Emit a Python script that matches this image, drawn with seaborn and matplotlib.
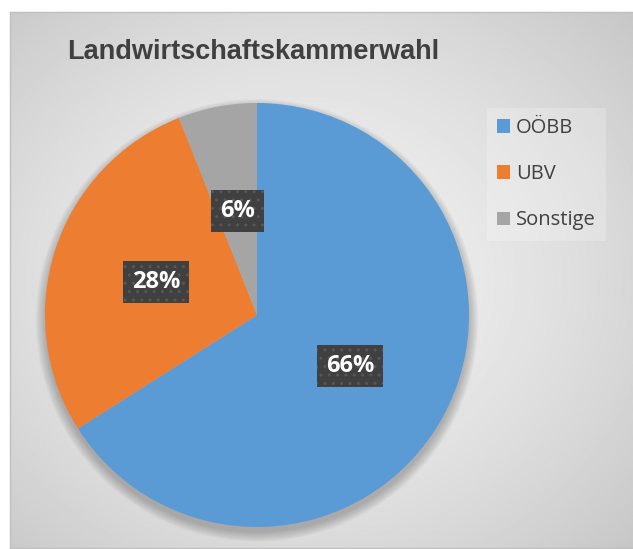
import numpy as np
import matplotlib.pyplot as plt
import seaborn as sns
from matplotlib.patches import Circle, Patch

labels = ["OÖBB", "UBV", "Sonstige"]
values = [66, 28, 6]
colors = ["#5B9BD5", "#ED7D31", "#A5A5A5"]
title = "Landwirtschaftskammerwahl"

sns.set_theme(style="white")
plt.rcParams['font.family'] = ['Open Sans', 'DejaVu Sans']

W, H = 633, 549
fig = plt.figure(figsize=(W / 100, H / 100), dpi=100)
fig.patch.set_facecolor("white")

# chart area with radial gradient
bg = fig.add_axes([10 / W, 1 / H, 623 / W, 536 / H], zorder=0)
yy, xx = np.mgrid[0:1:400j, 0:1:460j]
r = np.sqrt(((xx - 0.47) / 0.75) ** 2 + ((yy - 0.5) / 0.75) ** 2)
grad = 0.95 - 0.18 * np.clip(r, 0, 1) ** 1.5
bg.imshow(grad, cmap="gray", vmin=0, vmax=1, aspect="auto", extent=[0, 1, 0, 1])
bg.set_xticks([])
bg.set_yticks([])
for s in bg.spines.values():
    s.set_color("#bfbfbf")
    s.set_linewidth(1)
bg.spines["right"].set_visible(False)

# pie axes
cx, cy, rad = 257, 549 - 315, 212
ax = fig.add_axes([(cx - rad) / W, (cy - rad) / H, 2 * rad / W, 2 * rad / H], zorder=1)
ax.set_facecolor("none")

# soft shadow under the pie
for i in range(12):
    ax.add_patch(Circle((0, -0.025), 1 + 0.004 * i, color="black", alpha=0.018,
                        lw=0, zorder=0, clip_on=False))

wedges, texts, autotexts = ax.pie(
    values, colors=colors, startangle=90, counterclock=False,
    autopct="%1.0f%%", pctdistance=0.5, radius=1,
    wedgeprops=dict(linewidth=0, zorder=2),
    textprops=dict(color="white", fontsize=17, fontweight="bold"),
)
for w in wedges:
    w.set_clip_on(False)
for t in autotexts:
    t.set_zorder(5)
    t.set_bbox(dict(boxstyle="square,pad=0.38", fc="#404040", ec="#575757", hatch="..", lw=0))
ax.set_xlim(-1.0, 1.0)
ax.set_ylim(-1.0, 1.0)
ax.set_aspect("equal")
ax.axis("off")

fig.text(253 / W, 1 - 52 / H, title, ha="center", va="center", fontsize=19.5,
         fontweight="bold", color="#404040", family=["Liberation Sans", "DejaVu Sans"])

handles = [Patch(facecolor=c, edgecolor="none") for c in colors]
leg = fig.legend(handles, labels, loc="upper left", bbox_to_anchor=(487 / W, 1 - 108 / H),
                 frameon=True, fontsize=14.5, labelspacing=1.3, handlelength=0.65,
                 handleheight=0.65, handletextpad=0.3, borderpad=0.5, borderaxespad=0)
leg.get_frame().set_facecolor("white")
leg.get_frame().set_alpha(0.22)
leg.get_frame().set_edgecolor("none")
leg.get_frame().set_boxstyle("square", pad=0)
for t in leg.get_texts():
    t.set_color("#404040")

fig.savefig("out.png", dpi=100)
